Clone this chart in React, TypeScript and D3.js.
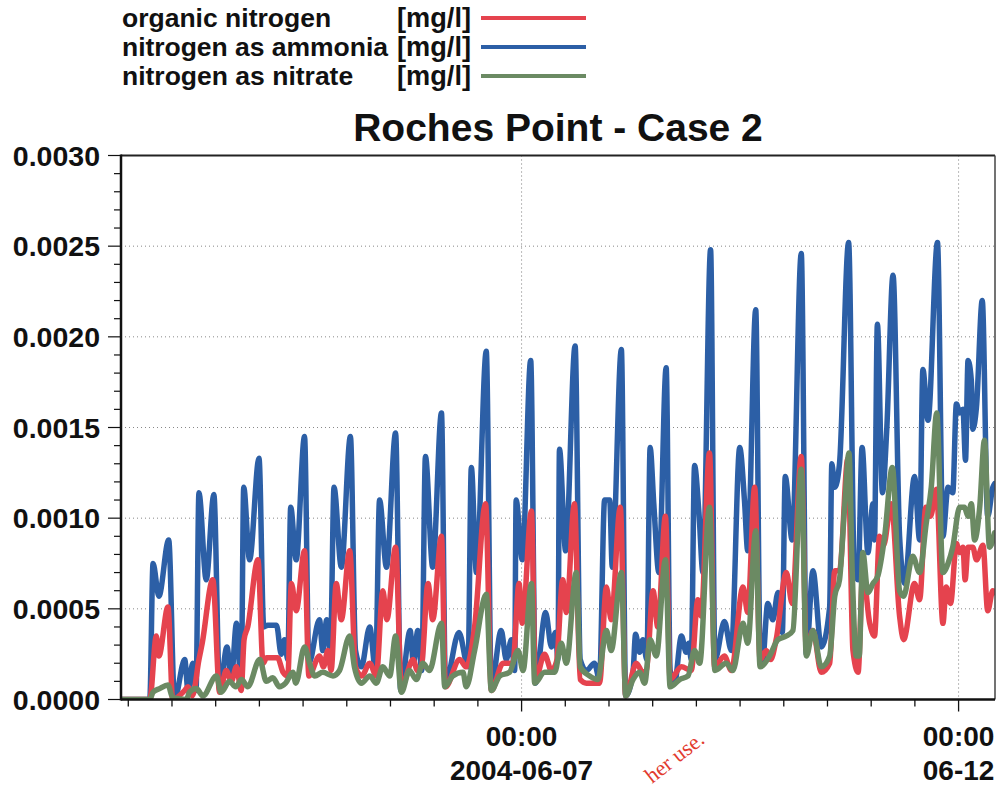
import React from "react";
import * as d3 from "d3";

// ---- data (hours since 2004-06-02 00:00 UTC, concentration mg/l) ----
const ammoniaHours = [10,17.9,18.8,20.4,23.1,24.7,27.5,28.4,29.7,30.6,31.4,33.4,35.5,37.1,39.1,40.3,41.7,43.0,43.7,45.3,47.9,49.2,50.3,52.7,54.0,54.9,55.8,56.6,58.1,60.4,61.6,64.5,65.4,66.5,67.5,68.5,70.5,73.0,74.4,76.0,78.3,79.9,81.0,82.9,85.4,86.8,89.4,90.3,91.5,92.6,93.6,95.6,98.0,99.1,102.8,105.3,106.2,107.6,110.3,111.7,114.4,115.8,117.2,118.1,118.5,120.2,122.5,123.8,126.6,128.2,129.3,130.0,130.4,132.1,134.7,136.1,137.8,140.0,141.4,142.8,144.2,144.9,147.4,148.6,150.6,151.3,152.4,153.3,154.4,155.3,156.3,157.7,159.7,160.8,162.0,163.9,165.2,165.9,166.6,167.5,168.7,169.8,171.9,173.1,175.7,177.6,179.9,181.2,182.1,184.3,185.5,186.2,187.6,189.0,190.4,191.6,192.4,194.3,196.8,198.2,200.0,202.3,204.6,205.2,206.0,207.3,209.8,211.4,212.4,213.5,215.1,216.5,216.9,217.7,219.1,220.3,222.0,223.8,225.2,227.9,229.3,230.2,231.6,234.2,235.7,237.1,238.4,239.4,240.3,241.2,241.9,242.6,243.5,243.9,244.9,246.5,248.0,249.4,249.9];
const ammoniaValues = [0,0,0.00075,0.00057,0.00088,0,0.00022,0.00005,0.0002,0.00005,0.00114,0.00066,0.00113,0.00005,0.00029,0.00011,0.00042,0.00007,0.00117,0.00077,0.00133,0.0004,0.00041,0.00041,0.00025,0.00033,0.00022,0.00106,0.00077,0.00145,0.0002,0.00044,0.00027,0.00044,0.00026,0.00117,0.00073,0.00145,0.00027,0.00018,0.0004,0.00016,0.0011,0.00073,0.00147,0.00005,0.00038,0.0002,0.00038,0.00016,0.00134,0.00073,0.00158,0.00009,0.00037,0.00018,0.00128,0.0007,0.00192,0.00007,0.00038,0.00022,0.00033,0.00016,0.0011,0.00077,0.00187,0.00009,0.00048,0.00029,0.00037,0.00022,0.00138,0.00082,0.00195,0.00022,0.00016,0.0002,0.00011,0.0011,0.0011,0.00073,0.00193,0.00002,0.00015,0.00036,0.00026,0.00033,0.00022,0.00139,0.00108,0.0007,0.00183,0.00016,0.00009,0.00035,0.00026,0.00031,0.00022,0.00129,0.00103,0.0007,0.00248,0.00022,0.00043,0.00027,0.00139,0.0011,0.00082,0.00215,0.00026,0.00022,0.00053,0.00044,0.00059,0.00037,0.00123,0.00088,0.00246,0.00025,0.00071,0.00029,0.00051,0.0013,0.00117,0.0013,0.00252,0.0007,0.00066,0.00139,0.00081,0.00108,0.00088,0.00207,0.00114,0.0015,0.00234,0.0009,0.00064,0.00123,0.00088,0.00182,0.00154,0.00252,0.0009,0.00117,0.00114,0.00163,0.00158,0.0016,0.00132,0.00187,0.00176,0.00149,0.00161,0.0022,0.00101,0.00117,0.00119];

const organicHours = [10,17.9,19.7,20.4,22.9,24.2,27.5,28.4,29.6,31.4,32.3,35.2,37.1,38.9,40.3,41.7,43.0,43.8,44.8,47.6,49.0,50.0,53.0,54.5,55.8,56.8,58.1,60.4,61.6,64.5,65.6,66.8,67.7,69.1,70.5,72.8,74.4,76.1,78.3,80.1,81.9,83.0,85.4,87.0,90.2,91.4,92.5,94.3,95.6,98.0,99.1,103.0,104.8,107.1,110.1,111.7,114.9,117.6,119.3,120.2,122.7,123.8,126.3,128.2,129.6,131.3,132.3,134.5,136.1,137.8,141.4,143.3,144.6,147.1,148.6,151.5,153.3,154.3,156.1,157.4,159.5,160.8,163.9,166.6,168.4,169.3,171.6,173.0,175.7,177.6,180.8,182.1,184.0,185.5,187.2,188.4,189.9,192.7,194.3,196.8,198.2,200.0,202.3,204.6,206.0,207.3,209.6,211.0,212.4,213.7,215.6,216.9,218.3,219.4,221.5,223.8,224.9,227.9,229.3,231.0,232.3,233.9,235.7,236.6,237.8,239.4,240.3,241.2,241.8,242.6,243.9,244.9,246.7,248.0,249.4,249.9];
const organicValues = [0,0,0.00035,0.00024,0.00051,0,0.00005,0.00007,0.00002,0.00022,0.00031,0.00066,0.00004,0.00016,0.0001,0.00018,0.00005,0.00033,0.0004,0.00077,0.0002,0.00023,0.00023,0.00015,0.00013,0.00064,0.00049,0.00082,0.00013,0.00024,0.00018,0.00027,0.00016,0.00064,0.00044,0.00082,0.00018,0.00013,0.0002,0.00013,0.0006,0.00044,0.00084,0.00007,0.00022,0.00016,0.00018,0.00064,0.00044,0.0009,0.00007,0.00022,0.00018,0.0004,0.00108,0.00005,0.0002,0.0002,0.00064,0.00042,0.00104,0.00011,0.00025,0.00016,0.00021,0.00066,0.00048,0.00108,0.00011,0.00009,0.00009,0.00062,0.00044,0.00106,0.00002,0.0002,0.00015,0.00016,0.0006,0.0004,0.00101,0.00011,0.00018,0.00016,0.00055,0.00046,0.00136,0.00018,0.00024,0.00016,0.00062,0.00048,0.00117,0.00022,0.00027,0.00022,0.00033,0.0007,0.00053,0.00134,0.00027,0.00038,0.00015,0.0002,0.00071,0.00071,0.00133,0.00027,0.00015,0.0007,0.00042,0.00035,0.0009,0.00085,0.00108,0.00046,0.00033,0.00064,0.00055,0.00106,0.00101,0.00116,0.00042,0.00062,0.00053,0.00086,0.00081,0.00084,0.00066,0.00084,0.00084,0.00077,0.00085,0.00049,0.0006,0.00059];

const nitrateHours = [10,17.9,18.8,20.6,22.9,24.2,28.0,28.8,30.7,32.5,36.2,37.5,39.8,41.5,43.1,44.8,48.1,49.9,51.7,53.5,55.2,57.2,58.0,60.4,61.8,63.2,65.4,68.2,70.0,72.8,74.1,76.0,78.3,80.1,81.9,83.8,85.4,87.0,89.2,91.1,92.9,94.7,98.0,98.9,101.1,103.9,104.8,107.1,110.3,111.7,114.0,116.7,119.0,120.4,122.7,123.6,126.3,129.1,130.9,132.3,135.0,136.1,138.7,140.9,143.3,144.6,147.4,148.6,150.6,152.4,153.8,155.3,157.0,159.5,160.8,163.4,165.7,167.5,168.9,171.6,173.1,176.2,178.0,180.8,182.1,184.3,185.5,188.1,190.4,192.7,194.5,196.8,198.2,200.0,202.3,204.6,206.0,207.3,208.7,209.9,210.8,211.9,212.7,213.7,215.1,216.5,217.8,219.7,221.8,223.8,224.9,227.4,229.3,231.1,232.5,234.0,235.7,237.1,238.4,240.3,241.6,242.6,243.5,244.4,245.8,247.1,248.5,249.9];
const nitrateValues = [0,0,0.00004,0.00006,0.00008,0.00001,0,0.00004,0.00006,0.00002,0.00013,0.00004,0.0001,0.00007,0.00011,0.00007,0.00022,0.0001,0.00012,0.00007,0.00009,0.00015,0.00009,0.00029,0.0002,0.00013,0.00015,0.00013,0.00016,0.00035,0.00018,0.00009,0.00013,0.00009,0.00018,0.00013,0.00035,0.00004,0.00016,0.00011,0.0002,0.00016,0.00042,0.00007,0.00013,0.00015,0.00007,0.00027,0.00058,0.00005,0.00013,0.00015,0.00027,0.00016,0.00064,0.00009,0.00015,0.00015,0.00031,0.0002,0.0007,0.00018,0.00013,0.00011,0.00038,0.00027,0.0007,0.00002,0.00011,0.00015,0.00009,0.00033,0.00024,0.00077,0.00007,0.00011,0.00013,0.00027,0.0002,0.00106,0.00016,0.0002,0.00016,0.00042,0.00031,0.00093,0.00018,0.00024,0.00033,0.00035,0.00038,0.00127,0.00024,0.00038,0.00018,0.00024,0.00057,0.00066,0.00106,0.00136,0.0007,0.00024,0.00024,0.00081,0.00059,0.00064,0.00068,0.0009,0.00128,0.0006,0.00057,0.00079,0.0007,0.00097,0.00117,0.00158,0.0007,0.00075,0.00084,0.00106,0.00106,0.00101,0.00108,0.00088,0.00106,0.00143,0.00084,0.00092];

const yTickValues = [0, 0.0005, 0.001, 0.0015, 0.002, 0.0025, 0.003];
const legendNames = ["organic nitrogen", "nitrogen as ammonia", "nitrogen as nitrate"];
const legendUnit = "[mg/l]";
const seriesColors = ["#e5434e", "#2c5fa6", "#6b8a63"];
const titleText = "Roches Point - Case 2";
const majorTickLabels = [
  { hour: 120, line1: "00:00", line2: "2004-06-07" },
  { hour: 240, line1: "00:00", line2: "06-12" },
];

const T0 = Date.UTC(2004, 5, 2);
const toDate = (h: number) => new Date(T0 + h * 3600e3);

const W = 1000, H = 788;
const plot = { left: 121, right: 995, top: 155.5, bottom: 699.5 };
const FONT = "'Liberation Sans', Arial, Helvetica, sans-serif";

export default function App() {
  const x = d3.scaleUtc().domain([toDate(10), toDate(250)]).range([plot.left, plot.right]);
  const y = d3.scaleLinear().domain([0, 0.003]).range([plot.bottom, plot.top]);

  const mk = (hours: number[], vals: number[]) => hours.map((h, i) => ({ t: toDate(h), v: vals[i] }));
  const series = [
    { name: legendNames[1], color: seriesColors[1], data: mk(ammoniaHours, ammoniaValues) },
    { name: legendNames[0], color: seriesColors[0], data: mk(organicHours, organicValues) },
    { name: legendNames[2], color: seriesColors[2], data: mk(nitrateHours, nitrateValues) },
  ];
  const line = d3.line<{ t: Date; v: number }>()
    .x(d => x(d.t)).y(d => y(d.v)).curve(d3.curveMonotoneX);

  const minorY = d3.range(0, 0.00301, 0.0001);
  const xTicks = d3.utcHour.every(12)!.range(toDate(10), toDate(250.01));
  const majorSet = new Set(majorTickLabels.map(m => toDate(m.hour).getTime()));

  return (
    <svg width={W} height={H} style={{ position: "absolute", left: 0, top: 0, background: "#fff" }} fontFamily={FONT}>
      <defs>
        <clipPath id="plotclip">
          <rect x={plot.left} y={plot.top} width={plot.right - plot.left} height={plot.bottom - plot.top} />
        </clipPath>
      </defs>
      <rect x={0} y={0} width={W} height={H} fill="#fff" />

      {/* legend */}
      {legendNames.map((n, i) => (
        <g key={n}>
          <text x={122} y={27 + i * 29} fontSize={26.5} fontWeight="bold" fill="#111" textLength={i === 1 ? 266 : undefined}>{n}</text>
          <text x={397} y={27 + i * 29} fontSize={27} fontWeight="bold" fill="#111" textLength={74} lengthAdjust="spacingAndGlyphs">{legendUnit}</text>
          <line x1={481} x2={586} y1={18 + i * 29} y2={18 + i * 29} stroke={seriesColors[i]} strokeWidth={4} />
        </g>
      ))}

      {/* title */}
      <text x={558} y={141} textAnchor="middle" fontSize={39} fontWeight="bold" fill="#111">{titleText}</text>

      {/* grid */}
      {yTickValues.slice(1, -1).map(v => (
        <line key={"g" + v} x1={plot.left} x2={plot.right} y1={y(v)} y2={y(v)} stroke="#888" strokeWidth={1} strokeDasharray="1,3" />
      ))}
      {majorTickLabels.map(m => (
        <line key={"gv" + m.hour} x1={x(toDate(m.hour))} x2={x(toDate(m.hour))} y1={plot.top} y2={plot.bottom} stroke="#777" strokeWidth={1} strokeDasharray="1,3" />
      ))}

      {/* series */}
      <g clipPath="url(#plotclip)">
        {series.map(s => (
          <path key={s.name} d={line(s.data) || ""} fill="none" stroke={s.color} strokeWidth={5.5} strokeLinejoin="round" strokeLinecap="round" />
        ))}
      </g>

      {/* frame */}
      <line x1={plot.left} x2={plot.right} y1={plot.top} y2={plot.top} stroke="#222" strokeWidth={2} />
      <line x1={plot.right} x2={plot.right} y1={plot.top} y2={plot.bottom} stroke="#444" strokeWidth={1.5} />
      <line x1={plot.left} x2={plot.left} y1={plot.top - 1} y2={plot.bottom + 1} stroke="#111" strokeWidth={2.5} />
      <line x1={plot.left} x2={plot.right} y1={plot.bottom} y2={plot.bottom} stroke="#111" strokeWidth={2.5} />

      {/* y ticks */}
      {minorY.map((v, i) => (
        <line key={"my" + i} x1={plot.left - (i % 5 === 0 ? 13 : 7)} x2={plot.left} y1={y(v)} y2={y(v)} stroke="#111" strokeWidth={1.2} />
      ))}
      {yTickValues.map(v => (
        <text key={"yl" + v} x={100} y={y(v) + 10} textAnchor="end" fontSize={28.5} fontWeight="bold" fill="#111">{d3.format(".4f")(v)}</text>
      ))}

      {/* x ticks */}
      {xTicks.map(t => {
        const major = majorSet.has(t.getTime());
        return <line key={"xt" + t.getTime()} x1={x(t)} x2={x(t)} y1={plot.bottom} y2={plot.bottom + (major ? 12 : 7)} stroke="#111" strokeWidth={1.3} />;
      })}
      {majorTickLabels.map(m => (
        <g key={"xl" + m.hour}>
          <text x={x(toDate(m.hour))} y={746} textAnchor="middle" fontSize={28} fontWeight="bold" fill="#111">{m.line1}</text>
          <text x={x(toDate(m.hour))} y={780} textAnchor="middle" fontSize={28} fontWeight="bold" fill="#111">{m.line2}</text>
        </g>
      ))}

      {/* watermark fragment */}
      <text x={652} y={784} transform="rotate(-38 652 784)" fontSize={22} fontFamily="'Liberation Serif', serif" fill="#e23a2e">her use.</text>
    </svg>
  );
}
